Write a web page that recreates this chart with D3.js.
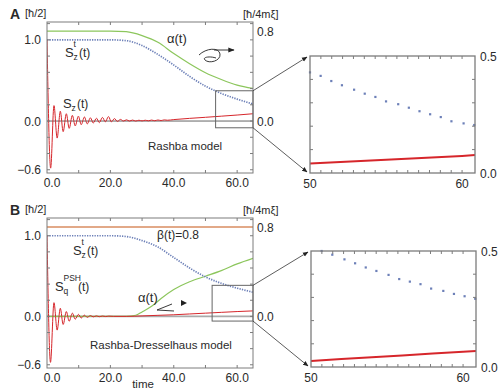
<!DOCTYPE html>
<html>
<head>
<meta charset="utf-8">
<script src="https://cdn.jsdelivr.net/npm/d3@7/dist/d3.min.js"></script>
<style>
  body { margin: 0; background: #fff; }
  svg text { font-family: "Liberation Sans", Arial, Helvetica, sans-serif; fill: #2a2a2a; }
</style>
</head>
<body>
<svg id="fig" width="498" height="391"></svg>
<script>
// ---- tick labels
const timeTicks = [0, 20, 40, 60];
const leftTicks = [-0.6, 0.0, 1.0];
const rightTicks = [0.0, 0.8];
const insetXTicks = [50, 60];
const insetYTicks = [0.0, 0.5];

// ---- panel A : Rashba model  ([t, value])
const szA = [[0,1.0],[1.15,-0.58],[2.2,0.19],[3.2,-0.21],[4.2,0.12],[5.1,-0.13],[6.1,0.09],[7.0,-0.09],
  [8.0,0.07],[8.9,-0.06],[9.9,0.06],[10.8,-0.045],[11.8,0.05],[12.7,-0.035],[13.7,0.04],[14.6,-0.025],
  [15.6,0.035],[16.5,-0.02],[17.5,0.045],[18.4,-0.01],[19.4,0.055],[20.3,-0.01],[21.3,0.03],[22.2,-0.005],
  [23.2,0.02],[24.1,0.0],[25.1,0.015],[26,0.0],[27,0.012],[28,0.0],[29,0.01],[30,0.002],[31,0.01],
  [32,0.003],[33,0.012],[34,0.004],[35,0.013],[36,0.006],[37,0.014],[38,0.01],[40,0.018],[45,0.033],
  [50,0.046],[55,0.06],[60,0.074],[65,0.09]];
const sztA = [[0,1.0],[5,1.0],[10,1.0],[15,1.0],[20,1.0],[25,0.99],[30,0.93],[35,0.82],[40,0.69],
  [45,0.55],[50,0.43],[55,0.34],[60,0.27],[65,0.21]];
const alphaA = [[0,0.8],[5,0.8],[10,0.8],[15,0.8],[20,0.8],[25,0.795],[30,0.76],[35,0.70],[40,0.60],
  [45,0.51],[50,0.43],[55,0.37],[60,0.32],[65,0.29]];
// inset A
const insetSztA = [[50.0,0.43],[50.7,0.415],[51.4,0.393],[52.1,0.375],[52.9,0.356],[53.6,0.339],[54.3,0.325],
  [55.0,0.306],[55.8,0.294],[56.5,0.279],[57.2,0.264],[57.9,0.251],[58.6,0.239],[59.3,0.221],[60.1,0.212],[60.8,0.205]];
const insetSzA = [[50,0.041],[52,0.047],[54,0.053],[56,0.06],[58,0.066],[60,0.073],[60.85,0.077]];

// ---- panel B : Rashba-Dresselhaus model
const sqB = [[0,1.0],[1.1,-0.57],[2.2,0.17],[3.2,-0.17],[4.2,0.1],[5.1,-0.1],[6.1,0.06],[7.0,-0.06],
  [8.0,0.04],[8.9,-0.035],[9.9,0.025],[10.8,-0.02],[11.8,0.015],[12.7,-0.012],[13.7,0.01],[14.6,-0.006],
  [15.6,0.006],[16.5,-0.004],[17.5,0.004],[18.5,-0.002],[19.5,0.003],[21,0.0],[25,0.0],[30,0.006],
  [35,0.013],[40,0.02],[45,0.03],[50,0.04],[55,0.05],[60,0.06],[65,0.068]];
const sztB = [[0,1.0],[5,1.0],[10,1.0],[15,1.0],[20,1.0],[25,0.99],[30,0.94],[35,0.86],[40,0.73],
  [45,0.60],[50,0.49],[55,0.41],[60,0.35],[65,0.30]];
const alphaB = [[0,0],[5,0],[10,0],[15,0],[20,0],[25,0.0],[28,0.01],[30,0.04],[33,0.09],[36,0.16],
  [40,0.24],[45,0.31],[50,0.36],[55,0.41],[60,0.47],[65,0.52]];
const betaB = [[0,0.8],[65,0.8]];
// inset B
const insetSztB = [[50.7,0.5],[51.4,0.484],[52.2,0.464],[52.9,0.447],[53.6,0.429],[54.3,0.414],[55.1,0.397],
  [55.8,0.379],[56.5,0.368],[57.2,0.357],[57.9,0.338],[58.7,0.328],[59.4,0.315],[60.1,0.305],[60.8,0.294]];
const insetSqB = [[50,0.026],[52,0.034],[54,0.042],[56,0.05],[58,0.058],[60,0.066],[60.85,0.069]];

const C = { red: '#d6262b', green: '#8cc65c', blue: '#6d80b8', orange: '#d98c60', frame: '#7c7c7c' };

const svg = d3.select('#fig');
const defs = svg.append('defs');
defs.append('marker')
  .attr('id', 'ah').attr('viewBox', '0 0 10 10').attr('refX', 9).attr('refY', 5)
  .attr('markerWidth', 7).attr('markerHeight', 7).attr('orient', 'auto-start-reverse')
  .append('path').attr('d', 'M0,1 L10,5 L0,9 z').attr('fill', '#222');

function fmt(v) { return d3.format('.1f')(v); }

function mainPanel(o) {
  const x = d3.scaleLinear().domain([0, 65]).range([47, 253]);
  const y = d3.scaleLinear().domain([-0.64, 1.22]).range([o.bottom, o.top]);
  const yR = d3.scaleLinear().domain([-0.462, 0.881]).range([o.bottom, o.top]);
  const g = svg.append('g');
  const clipId = 'clip' + o.tag;
  defs.append('clipPath').attr('id', clipId).append('rect')
    .attr('x', x(0)).attr('y', o.top).attr('width', x(65) - x(0)).attr('height', o.bottom - o.top);

  // zero line
  g.append('line').attr('x1', x(0)).attr('x2', x(65)).attr('y1', y(0)).attr('y2', y(0))
    .attr('stroke', o.zeroColor).attr('stroke-width', o.zeroWidth);

  const plot = g.append('g').attr('clip-path', `url(#${clipId})`);
  const lineL = d3.line().x(d => x(d[0])).y(d => y(d[1])).curve(d3.curveMonotoneX);
  const lineR = d3.line().x(d => x(d[0])).y(d => yR(d[1])).curve(d3.curveMonotoneX);

  if (o.beta) plot.append('path').attr('d', lineR(o.beta)).attr('fill', 'none')
    .attr('stroke', C.orange).attr('stroke-width', 1.6);
  plot.append('path').attr('d', lineR(o.alpha)).attr('fill', 'none')
    .attr('stroke', C.green).attr('stroke-width', 1.2);
  plot.append('path').attr('d', lineL(o.szt)).attr('fill', 'none')
    .attr('stroke', C.blue).attr('stroke-width', 1.7).attr('stroke-dasharray', '1.3,1.2');
  plot.append('path').attr('d', lineL(o.sz)).attr('fill', 'none')
    .attr('stroke', C.red).attr('stroke-width', 1);

  // frame + ticks
  g.append('rect').attr('x', x(0)).attr('y', o.top).attr('width', x(65) - x(0)).attr('height', o.bottom - o.top)
    .attr('fill', 'none').attr('stroke', C.frame).attr('stroke-width', 1);
  d3.range(10, 65, 10).forEach(t => {
    g.append('line').attr('x1', x(t)).attr('x2', x(t)).attr('y1', o.bottom).attr('y2', o.bottom - 3).attr('stroke', C.frame);
    g.append('line').attr('x1', x(t)).attr('x2', x(t)).attr('y1', o.top).attr('y2', o.top + 3).attr('stroke', C.frame);
  });
  d3.range(-0.6, 1.21, 0.2).forEach(v => {
    g.append('line').attr('x1', x(0)).attr('x2', x(0) + 3).attr('y1', y(v)).attr('y2', y(v)).attr('stroke', C.frame);
    g.append('line').attr('x1', x(65)).attr('x2', x(65) - 3).attr('y1', y(v)).attr('y2', y(v)).attr('stroke', C.frame);
  });

  // tick labels
  leftTicks.forEach(v => g.append('text').attr('x', 41).attr('y', y(v) + 4.5)
    .attr('text-anchor', 'end').attr('font-size', 12).text(fmt(v)));
  rightTicks.forEach(v => g.append('text').attr('x', 257).attr('y', yR(v) + 4.5)
    .attr('font-size', 12).text(fmt(v)));
  timeTicks.forEach(t => g.append('text').attr('x', x(t) + (t === 0 ? 5 : 0)).attr('y', o.bottom + 13.5)
    .attr('text-anchor', 'middle').attr('font-size', 12).text(fmt(t)));

  // unit labels
  g.append('text').attr('x', 10).attr('y', o.top - 3).attr('font-size', 14).attr('font-weight', 'bold').text(o.tag);
  g.append('text').attr('x', 25).attr('y', o.top - 5).attr('font-size', 11).text('[ħ/2]');
  g.append('text').attr('x', 243).attr('y', o.top - 4).attr('font-size', 11).text('[ħ/4mξ]');

  return { x, y, yR, g };
}

function insetPanel(o) {
  const x = d3.scaleLinear().domain([50, 60.85]).range([o.left, o.right]);
  const y = d3.scaleLinear().domain([0, 0.5]).range([o.bottom, o.top]);
  const g = svg.append('g');
  const line = d3.line().x(d => x(d[0])).y(d => y(d[1]));
  g.append('path').attr('d', line(o.sz)).attr('fill', 'none').attr('stroke', C.red).attr('stroke-width', 2);
  g.selectAll('rect.pt').data(o.szt).join('rect').attr('class', 'pt')
    .attr('x', d => x(d[0]) - 1.1).attr('y', d => y(d[1]) - 1.1).attr('width', 2.2).attr('height', 2.2)
    .attr('fill', C.blue);
  g.append('rect').attr('x', o.left).attr('y', o.top).attr('width', o.right - o.left).attr('height', o.bottom - o.top)
    .attr('fill', 'none').attr('stroke', C.frame).attr('stroke-width', 1.3);
  d3.range(1, 15).forEach(k => {
    const t = 50 + k * 10 / 14;
    g.append('line').attr('x1', x(t)).attr('x2', x(t)).attr('y1', o.top).attr('y2', o.top + 3).attr('stroke', C.frame);
    g.append('line').attr('x1', x(t)).attr('x2', x(t)).attr('y1', o.bottom).attr('y2', o.bottom - 3).attr('stroke', C.frame);
  });
  d3.range(0.1, 0.5, 0.1).forEach(v => {
    g.append('line').attr('x1', o.left).attr('x2', o.left + 3).attr('y1', y(v)).attr('y2', y(v)).attr('stroke', C.frame);
    g.append('line').attr('x1', o.right).attr('x2', o.right - 3).attr('y1', y(v)).attr('y2', y(v)).attr('stroke', C.frame);
  });
  insetXTicks.forEach(t => g.append('text').attr('x', x(t)).attr('y', o.bottom + 15)
    .attr('text-anchor', 'middle').attr('font-size', 12).text(t));
  insetYTicks.forEach(v => g.append('text').attr('x', o.right + 5).attr('y', y(v) + 4.5)
    .attr('font-size', 12).text(fmt(v)));
  return { x, y };
}

function zoomBox(p, inset, box) {
  const x0 = p.x(box[0]), x1 = p.x(box[1]), y0 = p.y(box[3]), y1 = p.y(box[2]);
  svg.append('rect').attr('x', x0).attr('y', y0).attr('width', x1 - x0).attr('height', y1 - y0)
    .attr('fill', 'none').attr('stroke', '#666').attr('stroke-width', 1);
  const ix = inset.x(50) - 3;
  svg.append('line').attr('x1', x1).attr('y1', y0).attr('x2', ix).attr('y2', inset.y(0.5) + 1)
    .attr('stroke', '#333').attr('stroke-width', 0.8).attr('marker-end', 'url(#ah)');
  svg.append('line').attr('x1', x1).attr('y1', y1).attr('x2', ix).attr('y2', inset.y(0) - 1)
    .attr('stroke', '#333').attr('stroke-width', 0.8).attr('marker-end', 'url(#ah)');
}

function sLabel(x, y, sup, sub, tail) {
  svg.append('text').attr('x', x).attr('y', y).attr('font-size', 13).text('S');
  if (sup) svg.append('text').attr('x', x + 8.5).attr('y', y - 10).attr('font-size', 8.5).text(sup);
  if (sub) svg.append('text').attr('x', x + 8.5).attr('y', y + 2.5).attr('font-size', 8.5).text(sub);
  svg.append('text').attr('x', x + tail).attr('y', y).attr('font-size', 12).text('(t)');
}

// ---- panel A
const pA = mainPanel({ tag: 'A', top: 22, bottom: 173, zeroColor: '#555', zeroWidth: 0.9,
  sz: szA, szt: sztA, alpha: alphaA });
const iA = insetPanel({ left: 310, right: 475, top: 56, bottom: 173, sz: insetSzA, szt: insetSztA });
zoomBox(pA, iA, [53.2, 65, -0.083, 0.373]);

svg.append('text').attr('x', 167).attr('y', 43).attr('font-size', 13).text('α(t)');
sLabel(65, 57, 't', 'z', 14);
sLabel(63, 108, null, 'z', 14);
svg.append('text').attr('x', 148).attr('y', 150).attr('font-size', 11.5).text('Rashba model');
// curly arrow
svg.append('path').attr('d', 'M199,55 C206,48 219,47 220,54 C221,61 209,64 205,60 C202,57 210,56 216,58')
  .attr('fill', 'none').attr('stroke', '#222').attr('stroke-width', 0.9);
svg.append('line').attr('x1', 214).attr('y1', 50).attr('x2', 234).attr('y2', 50)
  .attr('stroke', '#222').attr('stroke-width', 0.9).attr('marker-end', 'url(#ah)');

// ---- panel B
const pB = mainPanel({ tag: 'B', top: 218, bottom: 368, zeroColor: '#aaa', zeroWidth: 1.6,
  sz: sqB, szt: sztB, alpha: alphaB, beta: betaB });
const iB = insetPanel({ left: 311, right: 476, top: 251, bottom: 367, sz: insetSqB, szt: insetSztB });
zoomBox(pB, iB, [52.1, 65, -0.058, 0.385]);

svg.append('text').attr('x', 157).attr('y', 239).attr('font-size', 12).text('β(t)=0.8');
sLabel(73, 255, 't', 'z', 14);
sLabel(55, 291, 'PSH', 'q', 23);
svg.append('text').attr('x', 138).attr('y', 302).attr('font-size', 13).text('α(t)');
svg.append('text').attr('x', 90).attr('y', 349).attr('font-size', 11.5).text('Rashba-Dresselhaus model');
svg.append('text').attr('x', 143).attr('y', 388).attr('text-anchor', 'middle').attr('font-size', 11.5).text('time');
svg.append('path').attr('d', 'M172,304 L157,310 L174,311').attr('fill', 'none')
  .attr('stroke', '#222').attr('stroke-width', 0.9);
svg.append('path').attr('d', 'M181,300 L187,303 L181,306 z').attr('fill', '#222');
</script>
</body>
</html>
